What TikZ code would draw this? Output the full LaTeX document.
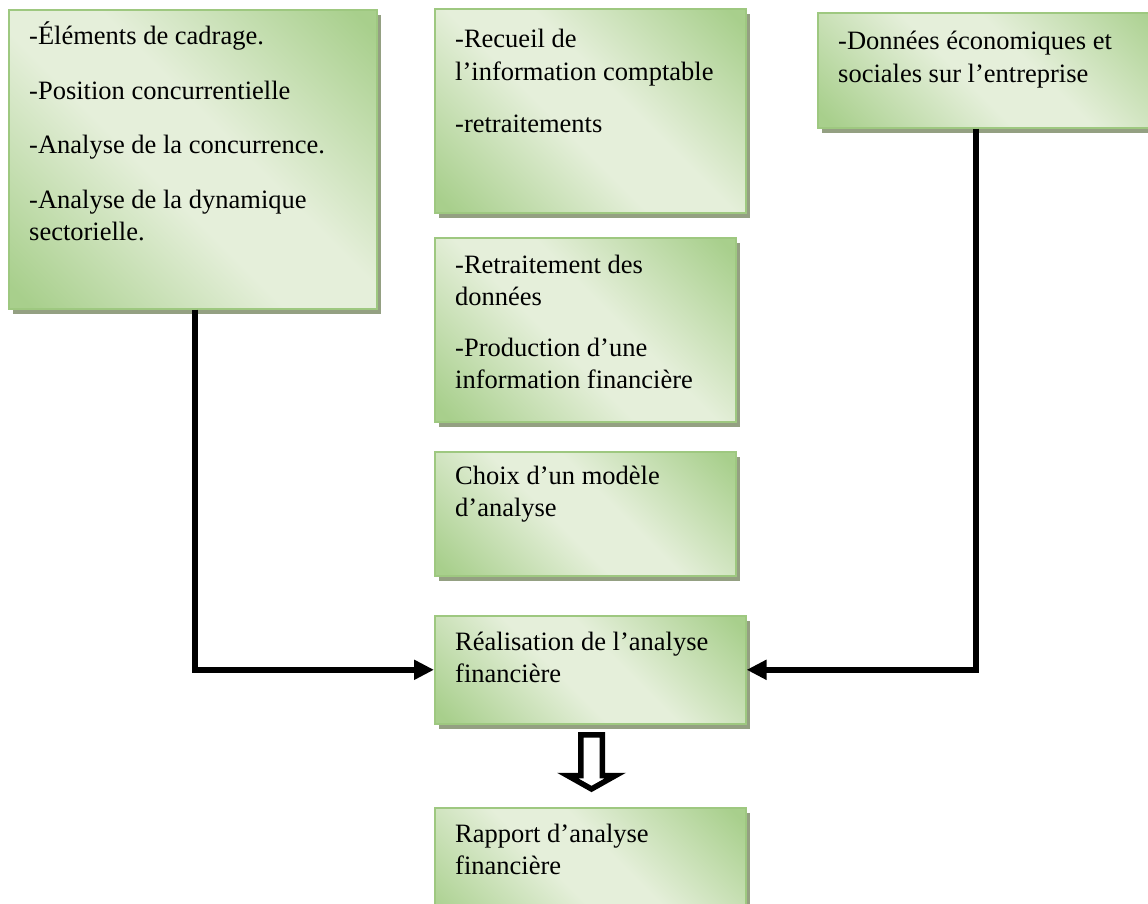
\documentclass[tikz,border=0pt]{standalone}
\usepackage{fontspec}
\setmainfont{Liberation Serif}
\usetikzlibrary{arrows.meta,shadows}

\definecolor{gdark}{RGB}{168,207,140}
\definecolor{glight}{RGB}{229,239,218}
\definecolor{gedge}{RGB}{158,200,128}
\definecolor{gshadow}{RGB}{148,160,130}

% diagonal green - pale - green fill of the cards
\pgfdeclarehorizontalshading{leafshade}{100bp}{%
  color(0bp)=(gdark); color(17bp)=(gdark); color(44bp)=(glight);
  color(56bp)=(glight); color(83bp)=(gdark); color(100bp)=(gdark)}

% text block whose baseline is that of its first line
\newcommand\cardlines[1]{\begin{tabular}[t]{@{}l@{}}#1\end{tabular}}

\tikzset{
  card/.style={rectangle, draw=gedge, line width=1.6pt, shading=leafshade,
    shading angle=45, inner sep=0pt, anchor=north west,
    drop shadow={shadow xshift=4pt, shadow yshift=-5pt, fill=gshadow, opacity=1}},
  cardtext/.style={anchor=base west, inner sep=0pt,
    font=\fontsize{26.5}{32.5}\selectfont},
  link/.style={line width=5.5pt, line join=miter,
    -{Triangle[length=20pt,width=19pt]}},
  hollow/.style={draw=black, fill=white, line width=5.5pt, line join=miter}
}

\begin{document}
\begin{tikzpicture}[x=1pt,y=-1pt]
\useasboundingbox (0,0) rectangle (1148,904);

% cards
\node[card, minimum width=368pt, minimum height=299pt] (b1) at (8,9) {};
\node[card, minimum width=311pt, minimum height=204pt] (b2) at (434,8) {};
\node[card, minimum width=358pt, minimum height=115pt] (b3) at (817,12) {};
\node[card, minimum width=301pt, minimum height=184pt] (b4) at (434,237) {};
\node[card, minimum width=301pt, minimum height=124pt] (b5) at (434,451) {};
\node[card, minimum width=311pt, minimum height=108pt] (b6) at (434,615) {};
\node[card, minimum width=311pt, minimum height=125pt] (b7) at (434,807) {};

% card texts
\node[cardtext] (t1) at ([xshift=21pt,yshift=-36pt]b1.north west)
  {\cardlines{-Éléments de cadrage.\\[22pt]-Position concurrentielle\\[22pt]-Analyse de la concurrence.\\[22pt]-Analyse de la dynamique\\sectorielle.}};
\node[cardtext] (t2) at ([xshift=21pt,yshift=-40pt]b2.north west)
  {\cardlines{-Recueil de\\l’information comptable\\[20pt]-retraitements}};
\node[cardtext] (t3) at ([xshift=21pt,yshift=-38pt]b3.north west)
  {\cardlines{-Données économiques et\\sociales sur l’entreprise}};
\node[cardtext] (t4) at ([xshift=21pt,yshift=-36pt]b4.north west)
  {\cardlines{-Retraitement des\\données\\[18pt]-Production d’une\\information financière}};
\node[cardtext] (t5) at ([xshift=21pt,yshift=-33pt]b5.north west)
  {\cardlines{Choix d’un modèle\\d’analyse}};
\node[cardtext] (t6) at ([xshift=21pt,yshift=-35pt]b6.north west)
  {\cardlines{Réalisation de l’analyse\\financière}};
\node[cardtext] (t7) at ([xshift=21pt,yshift=-35pt]b7.north west)
  {\cardlines{Rapport d’analyse\\financière}};

% connectors
\draw[link] ([xshift=187pt]b1.south west) |- (b6.west);
\draw[link] ([xshift=159pt]b3.south west) |- (b6.east);

% hollow block arrow between the last two cards
\draw[hollow] (580.75,734.75) -- (580.75,775.5) -- (567.5,775.5) -- (591.5,789)
  -- (615.5,775.5) -- (602.25,775.5) -- (602.25,734.75) -- cycle;
\end{tikzpicture}
\end{document}
